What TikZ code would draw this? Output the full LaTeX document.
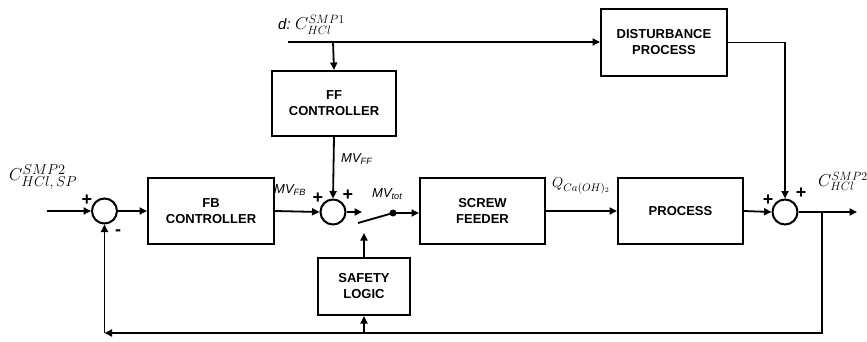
\documentclass[tikz,border=0pt]{standalone}
\usepackage{fontspec}
\setmainfont{Liberation Sans}
\usetikzlibrary{arrows.meta}
\tikzset{
  blk/.style={draw, line width=2pt, align=center, inner sep=0pt,
    font=\fontsize{13}{16}\selectfont\bfseries},
  sumc/.style={draw, circle, line width=2pt, minimum size=25pt, inner sep=0pt},
  wire/.style={line width=1.8pt},
  arr/.style={wire, -{Triangle[length=7.5pt,width=7pt]}},
  lbl/.style={inner sep=0pt, font=\fontsize{13}{15}\selectfont\itshape},
  mlbl/.style={inner sep=0pt, font=\fontsize{19}{21}\selectfont},
  sgn/.style={inner sep=0pt, font=\fontsize{18}{18}\selectfont\bfseries},
}
\begin{document}
\begin{tikzpicture}[x=1pt,y=-1pt]
\useasboundingbox (0,0) rectangle (867,342);
% blocks
\node[blk, minimum width=126pt, minimum height=66pt] (fb) at (211,211) {FB\\CONTROLLER};
\node[blk, minimum width=124pt, minimum height=65pt] (ff) at (334,103.5) {FF\\CONTROLLER};
\node[blk, minimum width=125pt, minimum height=66pt] (sf) at (482.5,211) {SCREW\\FEEDER};
\node[blk, minimum width=125pt, minimum height=66pt] (pr) at (680.5,211) {PROCESS};
\node[blk, minimum width=126pt, minimum height=67pt] (dp) at (664,42.5) {DISTURBANCE\\PROCESS};
\node[blk, minimum width=92pt, minimum height=57pt] (sl) at (364,286.5) {SAFETY\\LOGIC};
% sums
\node[sumc] (s1) at (104.5,211) {};
\node[sumc] (s2) at (333,212) {};
\node[sumc] (s3) at (785,212) {};
% coordinates
\coordinate (in) at (47,211);
\coordinate (dstart) at (288,42);
\coordinate (dbr) at (333,42);
\coordinate (swin) at (362,212);
\coordinate (swl) at (358,223);
\coordinate (dot) at (393,213);
\coordinate (swt) at (364,233);
\coordinate (out) at (857,212);
\coordinate (split) at (822,212);
\coordinate (bl) at (104.5,333);
\coordinate (sbr) at (364,333);
% connectors
\draw[arr] (in) -- (s1.west);
\draw[arr] (s1.east) -- (fb.west);
\draw[arr] (fb.east) -- (s2.west);
\draw[arr] (ff.south) -- (s2.north);
\draw[arr] (s2.east) -- (swin);
\draw[wire] (swl) -- (dot);
\fill (dot) circle (3.5pt);
\draw[arr] (dot) -- (sf.west |- dot);
\draw[arr] (sl.north) -- (swt);
\draw[arr] (sf.east) -- (pr.west);
\draw[arr] (pr.east) -- (s3.west);
\draw[arr] (dstart) -- (dstart -| dp.west);
\draw[arr] (dbr) -- (ff.north);
\draw[arr] (dp.east) -| (s3.north);
\draw[arr] (s3.east) -- (out);
\draw[arr] (split) |- (bl);
\draw[arr] (bl) -- (s1.south);
\draw[arr] (sbr) -- (sl.south);
% labels
\node[mlbl, anchor=south west] at (9,189) {$C^{SMP2}_{HCl,\,SP}$};
\node[mlbl, anchor=south west, font=\fontsize{17}{19}\selectfont] at (818,191) {$C^{SMP2}_{HCl}$};
\node[anchor=base west, inner sep=0pt, font=\fontsize{15}{17}\selectfont\itshape] at (278,30) {d:};
\node[mlbl, anchor=base west, font=\fontsize{17}{19}\selectfont] at (295,30) {$C^{SMP1}_{HCl}$};
\node[mlbl, anchor=south west, font=\fontsize{15}{17}\selectfont] at (552,194) {$Q_{Ca(OH)_2}$};
\node[lbl, anchor=south west] at (274,196) {MV\textsubscript{FB}};
\node[lbl, anchor=south west] at (341,165) {MV\textsubscript{FF}};
\node[lbl, anchor=south west] at (372,200) {MV\textsubscript{tot}};
% signs
\node[sgn] at (87,200) {+};
\node[sgn] at (118,233) {-};
\node[sgn] at (318,198) {+};
\node[sgn] at (348,195) {+};
\node[sgn] at (768,200) {+};
\node[sgn] at (801,193) {+};
\end{tikzpicture}
\end{document}
